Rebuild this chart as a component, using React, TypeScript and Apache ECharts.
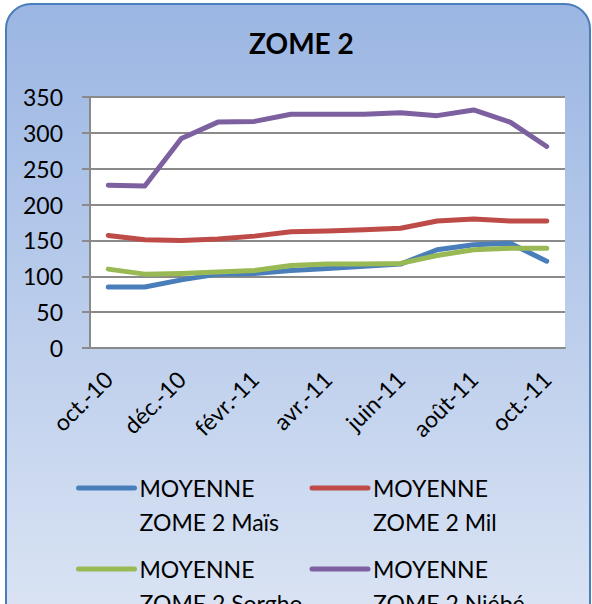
import React, { useEffect, useRef } from "react";
import * as echarts from "echarts";

const months = [
  "oct.-10", "nov.-10", "déc.-10", "janv.-11", "févr.-11", "mars-11", "avr.-11",
  "mai-11", "juin-11", "juil.-11", "août-11", "sept.-11", "oct.-11",
];
const mais = [85, 85, 95, 103, 104, 108, 111, 114, 117, 137, 144, 146, 121];
const mil = [157, 151, 150, 152, 156, 162, 163, 165, 167, 177, 180, 177, 177];
const sorgho = [110, 103, 104, 106, 108, 115, 117, 117, 118, 129, 137, 139, 139];
const niebe = [227, 226, 292, 315, 316, 326, 326, 326, 328, 324, 332, 315, 281];
const seriesNames = [
  "MOYENNE ZOME 2 Maïs",
  "MOYENNE ZOME 2 Mil",
  "MOYENNE ZOME 2 Sorgho",
  "MOYENNE ZOME 2 Niébé",
];
const colors = ["#4a7ebb", "#be4b48", "#98b954", "#7d60a0"];
const yTicks = { min: 0, max: 350, interval: 50 };

const FONT = "Lato";

export default function App() {
  const ref = useRef<HTMLDivElement>(null);
  useEffect(() => {
    document.body.style.margin = "0";
    const chart = echarts.init(ref.current!, null, { renderer: "svg" });
    const datas = [mais, mil, sorgho, niebe];
    const legendText = {
      fontFamily: FONT,
      fontSize: 23,
      color: "#000",
      lineHeight: 34,
      width: 170,
    };
    const legendBase = {
      left: 76,
      padding: 0,
      itemWidth: 56,
      itemHeight: 10,
      itemGap: 0,
      lineStyle: { width: 5, cap: "round" },
      itemStyle: { opacity: 0 },
      formatter: (n: string) => "\n" + n.replace("MOYENNE ", "MOYENNE\n"),
      textStyle: legendText,
    };
    chart.setOption({
      animation: false,
      graphic: [
        {
          type: "rect",
          z: -10,
          silent: true,
          shape: { x: 6, y: 4, width: 584, height: 660, r: 25 },
          style: {
            fill: new echarts.graphic.LinearGradient(0, 0, 0, 1, [
              { offset: 0, color: "#9bb6e3" },
              { offset: 1, color: "#dfe7f5" },
            ]),
            stroke: "#4a7ebb",
            lineWidth: 2,
          },
        },
      ],
      title: {
        text: "ZOME 2",
        left: 249,
        top: 29,
        padding: 0,
        textStyle: { fontFamily: FONT, fontWeight: "bold", fontSize: 28, color: "#000" },
      },
      legend: [
        { ...legendBase, data: [seriesNames[0], seriesNames[1]], top: 437 },
        { ...legendBase, data: [seriesNames[2], seriesNames[3]], top: 518 },
      ],
      grid: {
        left: 90,
        right: 27,
        top: 97,
        bottom: 256,
        show: true,
        backgroundColor: "#ffffff",
        borderWidth: 0,
      },
      xAxis: {
        type: "category",
        data: months,
        boundaryGap: true,
        axisLine: { lineStyle: { color: "#8a8a8a", width: 2 } },
        axisTick: { interval: 1, length: 8, lineStyle: { color: "#8a8a8a", width: 2 } },
        axisLabel: {
          interval: 1,
          rotate: 45,
          margin: 27,
          fontFamily: FONT,
          fontSize: 23,
          color: "#000",
        },
        splitLine: { show: false },
      },
      yAxis: {
        type: "value",
        min: yTicks.min,
        max: yTicks.max,
        interval: yTicks.interval,
        axisLine: { show: true, lineStyle: { color: "#8a8a8a", width: 2 } },
        axisTick: { show: true, length: 8, lineStyle: { color: "#8a8a8a", width: 2 } },
        axisLabel: { margin: 27, fontFamily: FONT, fontSize: 23, color: "#000" },
        splitLine: { lineStyle: { color: "#8a8a8a", width: 2 } },
      },
      series: datas.map((d, i) => ({
        name: seriesNames[i],
        type: "line",
        data: d,
        symbol: "none",
        color: colors[i],
        lineStyle: { width: 5, color: colors[i], cap: "round", join: "round" },
      })),
    });
    return () => chart.dispose();
  }, []);
  return (
    <div
      ref={ref}
      style={{ position: "absolute", left: 0, top: 0, width: 592, height: 604 }}
    />
  );
}
